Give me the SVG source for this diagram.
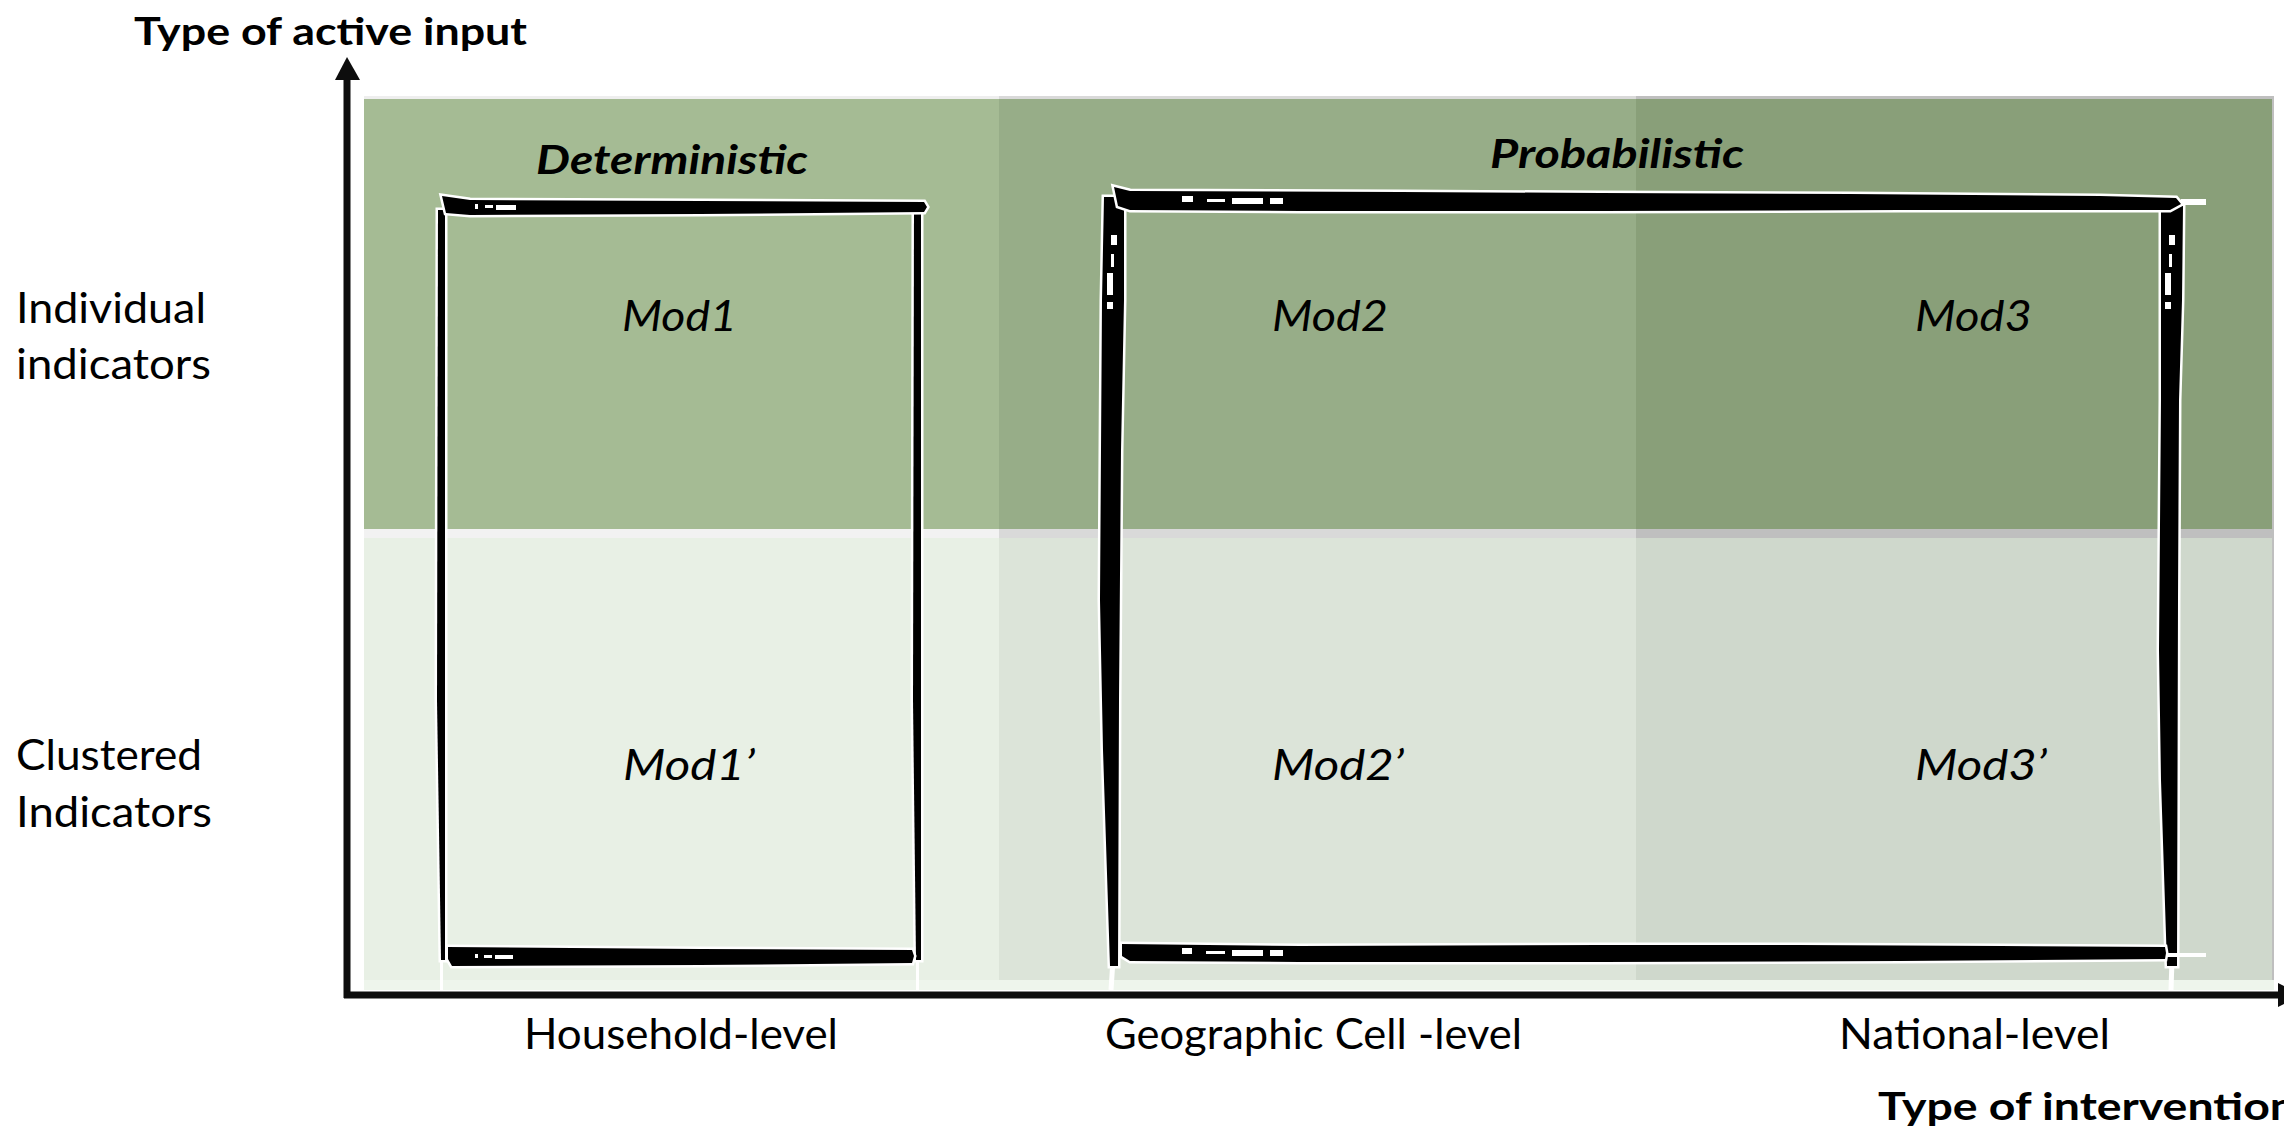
<svg xmlns="http://www.w3.org/2000/svg" width="2284" height="1131" viewBox="0 0 2284 1131">
<defs>
<style>
.lbl{font-family:Lato,"Open Sans","Liberation Sans",sans-serif;fill:#000}
.title{font-weight:bold;font-size:38px}
.hdr{font-weight:bold;font-style:italic;font-size:41px}
.mod{font-style:italic;font-size:43px}
.reg{font-size:43px}
.sk{fill:#000;stroke:#fff;stroke-width:5;stroke-linejoin:miter;paint-order:stroke}
.tx{fill:#fff}
.ax{stroke:#0d0d0d;stroke-width:7;fill:none}
</style>
</defs>
<rect width="2284" height="1131" fill="#fff"/>
<g id="background">
  <rect x="364" y="96" width="635" height="3" fill="#eeeeee"/>
  <rect x="999" y="96" width="637" height="3" fill="#d9d9d9"/>
  <rect x="1636" y="96" width="638" height="3" fill="#bfbfbf"/>
  <rect x="2272" y="96" width="2" height="884" fill="#bfbfbf"/>
  <rect x="364" y="99" width="635" height="430" fill="#a5bb94"/>
  <rect x="999" y="99" width="637" height="430" fill="#97ad88"/>
  <rect x="1636" y="99" width="636" height="430" fill="#899f79"/>
  <rect x="364" y="529" width="635" height="9" fill="#f2f2f2"/>
  <rect x="999" y="529" width="637" height="9" fill="#d9d9d9"/>
  <rect x="1636" y="529" width="636" height="9" fill="#bfbfbf"/>
  <rect x="364" y="538" width="635" height="442" fill="#e8f0e5"/>
  <rect x="999" y="538" width="637" height="442" fill="#dce4d9"/>
  <rect x="1636" y="538" width="636" height="442" fill="#cfd8cc"/>
  <rect x="364" y="980" width="1910" height="10" fill="#eef5ec"/>
</g>
<g id="column-headers">
  <text class="lbl hdr" x="536" y="174" textLength="272" lengthAdjust="spacingAndGlyphs">Deterministic</text>
  <text class="lbl hdr" x="1490" y="168" textLength="254" lengthAdjust="spacingAndGlyphs">Probabilistic</text>
</g>
<g id="mod1-box">
  <line x1="441.5" y1="212" x2="441.5" y2="992" stroke="#fff" stroke-width="3"/>
  <line x1="917.5" y1="212" x2="917.5" y2="992" stroke="#fff" stroke-width="3"/>
  <polygon class="sk" points="438,210 445,210 445,960 441,960 437,700"/>
  <polygon class="sk" points="914,210 921,210 921,960 916,960 913,700"/>
  <polygon class="sk" points="442,196 470,200 700,201 924,202 927,207 924,212 700,214 470,215 446,213"/>
  <polygon class="sk" points="448,947 700,949 912,950 914,956 912,963 700,965 452,966 448,959"/>
  <rect class="tx" x="475" y="204" width="3" height="5"/>
  <rect class="tx" x="485" y="205" width="8" height="3"/>
  <rect class="tx" x="496" y="205" width="20" height="5"/>
  <rect class="tx" x="475" y="954" width="3" height="4"/>
  <rect class="tx" x="484" y="955" width="8" height="3"/>
  <rect class="tx" x="495" y="955" width="18" height="4"/>
</g>
<g id="prob-box">
  <line x1="1113" y1="960" x2="1111" y2="990" stroke="#fff" stroke-width="5"/>
  <line x1="2172" y1="960" x2="2171" y2="990" stroke="#fff" stroke-width="5"/>
  <polygon class="sk" points="1104,197 1124,197 1124,300 1121,450 1119,700 1118,966 1110,966 1103,750 1100,600 1102,300"/>
  <polygon class="sk" points="2161,206 2183,206 2182,300 2179,400 2178,600 2177,966 2167,966 2161,780 2159,650 2161,400"/>
  <polygon class="sk" points="1114,187 1130,191 1400,192 1600,193 1850,194 2100,196 2176,198 2181,204 2170,210 1900,210 1600,211 1300,211 1130,210 1118,206"/>
  <polygon class="sk" points="1122,944 1300,946 1600,945 1800,945 2000,946 2165,947 2166,953 2165,959 1900,961 1600,962 1300,962 1130,961 1122,956"/>
  <rect class="tx" x="2181" y="199" width="25" height="6"/>
  <rect class="tx" x="2166" y="953" width="40" height="4"/>
  <rect class="tx" x="1182" y="196" width="11" height="6"/>
  <rect class="tx" x="1207" y="199" width="18" height="3"/>
  <rect class="tx" x="1232" y="198" width="31" height="6"/>
  <rect class="tx" x="1270" y="198" width="13" height="6"/>
  <rect class="tx" x="1111" y="235" width="6" height="10"/>
  <rect class="tx" x="1111" y="254" width="3" height="13"/>
  <rect class="tx" x="1107" y="273" width="6" height="22"/>
  <rect class="tx" x="1107" y="302" width="6" height="7"/>
  <rect class="tx" x="2169" y="235" width="6" height="10"/>
  <rect class="tx" x="2169" y="254" width="3" height="13"/>
  <rect class="tx" x="2165" y="273" width="6" height="22"/>
  <rect class="tx" x="2165" y="302" width="6" height="7"/>
  <rect class="tx" x="1182" y="948" width="10" height="6"/>
  <rect class="tx" x="1206" y="951" width="19" height="3"/>
  <rect class="tx" x="1232" y="950" width="31" height="6"/>
  <rect class="tx" x="1270" y="950" width="13" height="6"/>
</g>
<g id="mods">
  <text class="lbl mod" x="622" y="331" textLength="115" lengthAdjust="spacingAndGlyphs">Mod1</text>
  <text class="lbl mod" x="1272" y="331" textLength="116" lengthAdjust="spacingAndGlyphs">Mod2</text>
  <text class="lbl mod" x="1915" y="331" textLength="117" lengthAdjust="spacingAndGlyphs">Mod3</text>
  <text class="lbl mod" x="623" y="780" textLength="132" lengthAdjust="spacingAndGlyphs">Mod1’</text>
  <text class="lbl mod" x="1272" y="780" textLength="132" lengthAdjust="spacingAndGlyphs">Mod2’</text>
  <text class="lbl mod" x="1915" y="780" textLength="132" lengthAdjust="spacingAndGlyphs">Mod3’</text>
</g>
<g id="row-labels">
  <text class="lbl reg" x="16" y="323" textLength="190" lengthAdjust="spacingAndGlyphs">Individual</text>
  <text class="lbl reg" x="16" y="379" textLength="195" lengthAdjust="spacingAndGlyphs">indicators</text>
  <text class="lbl reg" x="16" y="770" textLength="186" lengthAdjust="spacingAndGlyphs">Clustered</text>
  <text class="lbl reg" x="16" y="827" textLength="196" lengthAdjust="spacingAndGlyphs">Indicators</text>
</g>
<g id="col-labels">
  <text class="lbl reg" x="524" y="1049" textLength="314" lengthAdjust="spacingAndGlyphs">Household-level</text>
  <text class="lbl reg" x="1105" y="1049" textLength="417" lengthAdjust="spacingAndGlyphs">Geographic Cell -level</text>
  <text class="lbl reg" x="1839" y="1049" textLength="271" lengthAdjust="spacingAndGlyphs">National-level</text>
</g>
<g id="connectors">
  <line class="ax" x1="347" y1="78" x2="347" y2="998"/>
  <polygon points="347,57 360,80 335,80" fill="#0d0d0d"/>
  <line class="ax" x1="344" y1="995" x2="2280" y2="995"/>
  <polygon points="2278,983 2302,995 2278,1007" fill="#0d0d0d"/>
</g>
<g id="axis-titles">
  <text class="lbl title" x="134" y="45" textLength="393" lengthAdjust="spacingAndGlyphs">Type of active input</text>
  <text class="lbl title" x="1878" y="1120" textLength="418" lengthAdjust="spacingAndGlyphs">Type of intervention</text>
</g>
</svg>
